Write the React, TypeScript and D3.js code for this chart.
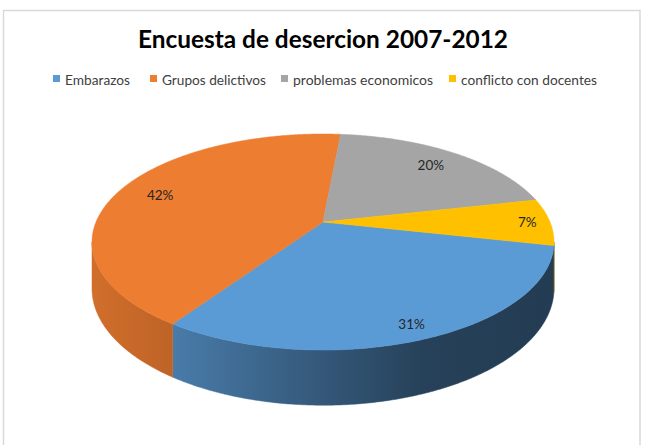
import React from "react";
import * as d3 from "d3";

// Survey data
const categories = ["Embarazos", "Grupos delictivos", "problemas economicos", "conflicto con docentes"];
const values = [31, 42, 20, 7];
const colors = ["#5B9BD5", "#ED7D31", "#A5A5A5", "#FFC000"];
const title = "Encuesta de desercion 2007-2012";

// Layout
const W = 648;
const H = 445;
const cx = 323; // screen position of the pie apex
const cy = 222;
const A = 227; // horizontal radius scale
const B = 104.3; // vertical radius scale
const thickness = 45;
const persp = 5.4; // perspective distance in pie radii
const rotation = (12.5 * Math.PI) / 180;
const FONT = "Lato, 'Open Sans', 'DejaVu Sans', sans-serif";

// legend item layout: marker x, text width
const legendMarkerX = [53, 150, 281, 449];
const legendTextW = [65, 104, 140, 136];

// perspective projection of a point on the pie disk (angle a, radius r, level z: 0 top, 1 bottom)
function project(a: number, r: number, z: number): [number, number] {
  const u = r * Math.cos(a);
  const v = r * Math.sin(a);
  const w = persp / (persp - v);
  return [cx + A * u * w, cy + B * v * w + z * thickness * w];
}

function arcPoints(a0: number, a1: number, r: number, z: number) {
  const n = Math.max(2, Math.ceil(Math.abs(a1 - a0) / 0.01));
  const pts: [number, number][] = [];
  for (let i = 0; i <= n; i++) pts.push(project(a0 + ((a1 - a0) * i) / n, r, z));
  return pts;
}

const line = d3.line();

function shade(color: string, f: number) {
  const c = d3.rgb(color);
  return d3.rgb(c.r * f, c.g * f, c.b * f).formatHex();
}

const shadeStops: [number, number][] = [
  [0, 0.88],
  [0.17, 0.8],
  [0.45, 0.6],
  [0.72, 0.42],
  [1, 0.39],
];

export default function App() {
  const pie = d3.pie<number>().sort(null).startAngle(0).endAngle(2 * Math.PI);
  const arcs = pie(values);
  const total = d3.sum(values);
  const pct = d3.format(".0%");

  const silL = Math.asin(1 / persp);
  const silR = Math.PI - silL;
  const xLeft = project(silR, 1, 0)[0];
  const xRight = project(silL, 1, 0)[0];

  const walls: { i: number; d: string }[] = [];
  const tops: { i: number; d: string }[] = [];
  const labels: { i: number; x: number; y: number; text: string }[] = [];

  arcs.forEach((arc, i) => {
    const a0 = arc.startAngle + rotation;
    const a1 = arc.endAngle + rotation;
    // top face
    const pts = [project(0, 0, 0), ...arcPoints(a0, a1, 1, 0)];
    tops.push({ i, d: line(pts) + "Z" });
    // visible outer wall segments
    for (let k = -1; k <= 1; k++) {
      const lo = Math.max(a0, silL + k * 2 * Math.PI);
      const hi = Math.min(a1, silR + k * 2 * Math.PI);
      if (hi > lo) {
        const wp = [...arcPoints(lo, hi, 1, 0), ...arcPoints(hi, lo, 1, 1)];
        walls.push({ i, d: line(wp) + "Z" });
      }
    }
    // data label
    const mid = (a0 + a1) / 2;
    const frac = arc.value / total;
    const r = frac < 0.1 ? 0.9 : 0.8 + 0.1 * Math.max(0, Math.sin(mid));
    const [lx, ly] = project(mid, r, 0);
    labels.push({ i, x: lx, y: ly, text: pct(frac) });
  });

  return (
    <div style={{ position: "fixed", left: 0, top: 0, width: W, height: H, background: "#fff" }}>
      <svg width={W} height={H} style={{ display: "block" }}>
        <defs>
          {colors.map((c, i) => (
            <linearGradient
              key={i}
              id={`wall-${i}`}
              gradientUnits="userSpaceOnUse"
              x1={xLeft}
              x2={xRight}
              y1={0}
              y2={0}
            >
              {shadeStops.map(([o, f], j) => (
                <stop key={j} offset={o} stopColor={shade(c, f)} />
              ))}
            </linearGradient>
          ))}
        </defs>
        <rect x={3.5} y={10.5} width={636.5} height={460} fill="#fff" stroke="#D9D9D9" strokeWidth={1.5} />
        <text
          x={323}
          y={47.5}
          textAnchor="middle"
          fontFamily={FONT}
          fontWeight="bold"
          fontSize={24}
          fill="#000"
          textLength={370}
          lengthAdjust="spacingAndGlyphs"
        >
          {title}
        </text>
        <g fontFamily={FONT} fontSize={14} fill="#404040">
          {categories.map((name, i) => (
            <g key={name}>
              <rect x={legendMarkerX[i]} y={75} width={7} height={7} fill={colors[i]} />
              <text x={legendMarkerX[i] + 12} y={85} textLength={legendTextW[i]} lengthAdjust="spacingAndGlyphs">
                {name}
              </text>
            </g>
          ))}
        </g>
        <g>
          {walls.map((w, k) => (
            <path key={k} d={w.d} fill={`url(#wall-${w.i})`} stroke={`url(#wall-${w.i})`} strokeWidth={0.5} />
          ))}
          {tops.map((t) => (
            <path key={t.i} d={t.d} fill={colors[t.i]} stroke={colors[t.i]} strokeWidth={0.5} />
          ))}
        </g>
        <g fontFamily={FONT} fontSize={13.5} fill="#262626" textAnchor="middle">
          {labels.map((l) => (
            <text key={l.i} x={l.x} y={l.y} dy="0.35em">
              {l.text}
            </text>
          ))}
        </g>
      </svg>
    </div>
  );
}
